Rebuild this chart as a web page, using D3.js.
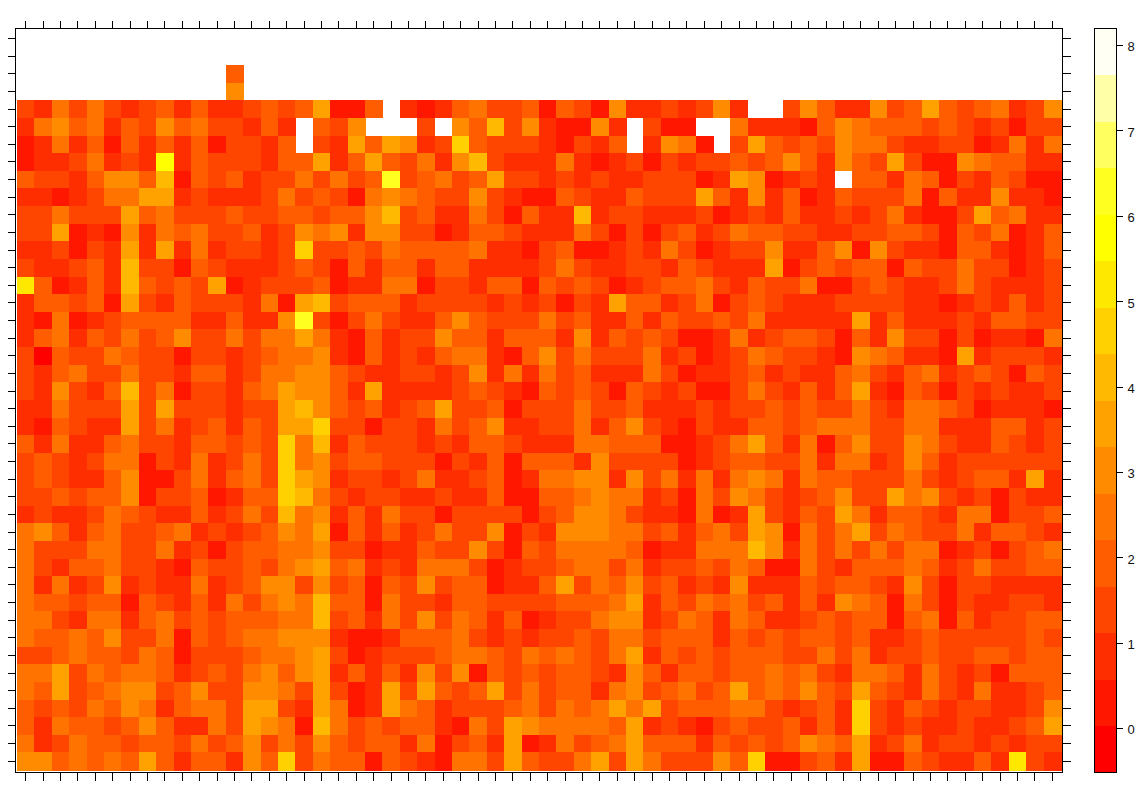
<!DOCTYPE html>
<html><head><meta charset="utf-8">
<script src="https://cdn.jsdelivr.net/npm/d3@7/dist/d3.min.js"></script>
<style>html,body{margin:0;background:#fff}svg{display:block}text{font-family:"Liberation Sans",Arial,sans-serif;font-size:13px;fill:#111}</style>
</head><body><svg id="c" width="1143" height="787"></svg>
<script>
const n = null;
const heatColors = ["#FF0000","#FF1700","#FF2E00","#FF4600","#FF5D00","#FF7400","#FF8B00","#FFA200","#FFB900","#FFD100","#FFE800","#FFFF00","#FFFF20","#FFFF60","#FFFFA8","#FFFFF4"];
const valueMin = -0.52, valueMax = 8.2;
const colorbarTicks = [0,1,2,3,4,5,6,7,8];
// colour-band index (0 = lowest band of the colour bar) read for each cell, top row first; n = blank
const r00 = [n,n,n,n,n,n,n,n,n,n,n,n,n,n,n,n,n,n,n,n,n,n,n,n,n,n,n,n,n,n,n,n,n,n,n,n,n,n,n,n,n,n,n,n,n,n,n,n,n,n,n,n,n,n,n,n,n,n,n,n];
const r01 = r00;
const r02 = [n,n,n,n,n,n,n,n,n,n,n,n,4,n,n,n,n,n,n,n,n,n,n,n,n,n,n,n,n,n,n,n,n,n,n,n,n,n,n,n,n,n,n,n,n,n,n,n,n,n,n,n,n,n,n,n,n,n,n,n];
const r03 = [n,n,n,n,n,n,n,n,n,n,n,n,6,n,n,n,n,n,n,n,n,n,n,n,n,n,n,n,n,n,n,n,n,n,n,n,n,n,n,n,n,n,n,n,n,n,n,n,n,n,n,n,n,n,n,n,n,n,n,n];
const r04 = [3,2,5,3,5,3,2,3,4,2,4,2,2,3,4,3,4,7,1,1,4,n,2,1,2,4,5,3,3,4,1,4,3,1,6,2,2,3,2,3,6,2,n,n,3,6,4,2,2,6,3,4,7,4,3,4,5,2,3,6];
const r05 = [2,5,6,4,5,2,4,3,6,4,5,3,3,2,4,2,n,4,3,6,n,n,n,3,n,6,4,8,3,6,2,1,1,6,2,n,3,1,1,n,n,5,2,2,2,1,4,6,5,4,4,4,3,4,3,2,3,1,3,3];
const r06 = [1,2,5,2,4,1,4,2,4,2,4,1,3,3,2,4,n,3,2,7,4,7,6,2,3,9,4,3,3,3,2,1,3,2,4,n,2,6,5,1,n,3,7,4,3,4,3,6,5,5,3,2,2,3,3,1,2,5,2,5];
const r07 = [1,2,2,3,5,2,3,2,11,2,4,3,3,3,2,4,4,7,2,4,7,4,3,5,2,6,8,3,2,2,2,5,2,1,2,3,1,3,2,3,3,4,3,4,6,4,2,6,4,3,7,3,1,1,6,5,4,4,2,2];
const r08 = [4,3,3,2,4,6,6,4,8,1,4,3,4,2,3,3,5,3,5,3,4,12,3,4,5,3,4,7,3,3,2,3,2,3,2,2,3,3,3,1,2,7,6,1,2,3,2,n,4,4,2,5,4,1,3,2,4,3,1,1];
const r09 = [2,2,1,2,3,5,5,7,7,2,3,2,2,2,3,5,3,4,3,1,5,6,5,4,3,3,6,3,2,1,1,4,3,2,2,4,3,3,3,7,4,2,6,2,4,1,2,4,3,3,3,5,1,4,2,2,6,2,2,1];
const r10 = [3,3,5,3,3,3,7,4,5,3,3,3,4,3,3,4,4,3,4,4,6,8,3,4,2,2,5,3,1,4,2,2,8,2,3,3,2,2,2,3,1,2,3,2,4,2,2,3,2,3,5,2,1,1,3,7,4,5,2,2];
const r11 = [3,3,7,1,2,1,6,2,5,4,5,3,3,4,2,3,6,5,6,2,6,6,3,3,1,2,4,4,3,2,2,2,5,3,1,3,1,3,4,2,3,5,4,4,3,3,2,2,3,3,4,4,3,1,4,3,5,1,2,4];
const r12 = [2,2,3,1,3,2,7,2,7,2,5,2,3,3,2,3,9,3,3,4,3,5,4,4,4,4,5,2,2,1,3,4,1,1,2,3,2,5,3,1,2,3,3,6,2,2,4,6,1,6,3,2,2,1,4,4,2,1,2,4];
const r13 = [3,2,2,3,4,2,8,3,3,1,4,3,2,2,2,3,4,3,1,4,2,4,4,2,4,4,2,2,2,2,3,5,3,2,2,3,3,2,4,3,2,2,2,7,1,3,4,3,4,4,1,4,3,3,5,3,3,1,2,3];
const r14 = [10,4,1,2,4,2,8,4,3,4,3,7,1,2,3,3,3,4,1,2,2,5,5,1,3,3,2,4,4,1,4,3,4,3,1,2,3,4,4,5,3,2,4,3,3,5,1,1,3,4,3,2,2,3,5,3,2,2,2,3];
const r15 = [2,4,4,3,4,1,7,3,2,4,3,3,3,2,5,1,7,8,3,4,4,4,2,3,3,3,3,2,3,2,3,1,3,2,7,4,4,2,3,5,1,3,4,3,2,2,2,3,3,3,3,2,2,1,2,3,2,4,2,3];
const r16 = [2,1,5,1,2,3,4,4,4,4,2,2,4,2,2,6,12,3,1,3,5,3,2,2,4,6,4,3,3,3,5,3,4,2,2,4,2,4,3,3,4,3,5,2,2,2,2,2,7,2,4,2,2,2,3,2,4,4,3,3];
const r17 = [2,4,5,2,4,3,5,3,4,6,3,3,5,3,5,5,7,5,2,1,4,2,3,3,6,4,4,2,4,4,4,2,6,2,4,3,4,3,1,1,2,5,2,3,4,4,3,1,4,2,6,3,3,1,3,1,2,2,1,5];
const r18 = [3,0,4,3,3,5,4,3,3,1,3,3,2,3,4,5,5,6,2,1,4,2,3,2,4,5,5,2,1,4,6,3,5,3,3,3,5,2,3,1,2,3,5,4,3,3,2,1,6,5,4,2,2,1,7,2,3,3,3,2];
const r19 = [3,2,4,5,3,3,5,3,3,2,4,4,2,3,5,5,6,6,4,3,2,2,3,3,2,3,6,2,5,2,5,3,4,2,2,2,5,3,1,2,2,3,4,2,3,2,2,4,5,3,2,4,5,2,3,4,3,1,4,3];
const r20 = [3,2,6,3,2,4,8,3,5,1,3,3,2,4,5,7,6,6,4,2,7,2,2,2,2,3,4,3,2,1,4,3,4,3,1,4,3,2,3,1,1,3,5,3,2,4,2,4,7,2,1,4,3,1,3,2,3,2,2,3];
const r21 = [2,2,5,3,3,3,7,3,7,3,3,3,2,3,3,7,8,6,4,3,4,2,3,4,7,3,3,4,1,3,3,3,5,3,3,4,2,2,2,3,2,3,3,4,3,4,3,3,5,3,2,5,5,4,3,1,2,2,2,1];
const r22 = [2,1,4,3,2,2,7,3,5,2,3,4,2,4,3,7,7,9,3,3,1,3,3,2,5,3,4,6,2,2,3,3,5,2,4,6,3,2,1,3,2,2,4,4,3,4,5,5,5,3,3,5,5,2,2,2,4,4,2,3];
const r23 = [4,2,5,2,2,4,5,3,3,2,4,4,3,4,3,9,5,8,2,4,3,3,3,2,3,2,4,4,3,2,2,2,5,5,4,4,4,1,1,2,3,5,7,4,2,5,1,4,6,3,3,6,5,3,2,2,4,3,2,3];
const r24 = [3,4,3,2,3,5,5,1,3,2,5,2,3,5,3,9,5,6,3,4,4,3,3,3,1,3,2,4,1,4,4,4,2,6,3,3,3,3,1,2,3,4,4,3,3,5,2,5,5,2,3,6,4,2,3,3,3,3,3,3];
const r25 = [3,4,3,2,2,4,6,1,1,3,5,2,4,5,3,9,7,6,2,3,3,2,3,5,2,2,3,4,1,2,5,5,6,6,2,6,3,5,2,5,2,5,6,5,2,5,4,4,3,3,3,5,3,2,3,4,4,2,7,2];
const r26 = [3,3,4,3,4,4,6,1,3,3,4,1,2,4,4,9,8,5,3,2,3,3,2,2,3,2,2,4,1,1,4,4,5,6,5,5,2,3,1,5,3,6,5,3,2,3,4,6,3,3,7,5,6,3,2,3,1,3,2,2];
const r27 = [2,3,2,2,3,5,4,3,2,2,4,2,3,5,3,8,5,6,2,4,2,5,3,3,1,3,3,3,3,1,3,4,6,6,5,3,2,2,1,5,1,2,7,3,2,4,3,7,5,2,4,4,3,2,5,5,1,3,3,4];
const r28 = [5,6,4,2,4,5,3,3,4,5,2,3,2,3,4,6,5,7,1,4,2,4,2,3,5,3,3,6,1,3,2,6,6,6,5,5,3,4,2,4,5,3,7,6,1,5,3,5,7,3,5,4,3,3,5,2,4,4,3,2];
const r29 = [5,3,3,3,5,5,3,3,5,2,3,1,3,4,4,5,5,6,3,3,1,2,2,4,3,3,6,3,1,4,3,5,5,5,5,4,1,2,2,5,5,5,8,6,2,5,3,5,3,5,3,5,5,1,2,3,1,3,4,5];
const r30 = [5,3,2,4,4,5,3,3,2,1,4,3,3,4,3,5,6,7,4,5,2,3,2,5,5,5,3,1,2,3,3,4,5,5,3,5,2,3,3,4,3,5,4,1,1,5,3,2,4,4,4,5,4,2,3,5,3,3,4,4];
const r31 = [5,2,5,2,3,6,2,3,2,2,5,2,3,4,6,6,3,6,3,4,1,4,3,6,3,4,4,1,2,2,4,7,3,5,4,6,3,4,2,3,2,6,2,2,2,4,3,4,4,3,2,6,3,1,3,3,2,2,2,2];
const r32 = [5,4,4,3,4,4,1,4,3,2,4,2,5,3,5,6,5,8,4,4,1,5,3,3,2,4,4,3,3,3,3,4,4,4,5,7,2,4,3,5,4,5,3,4,2,4,2,6,5,4,1,5,3,1,3,2,2,3,3,2];
const r33 = [5,5,3,2,5,5,2,4,5,3,4,3,4,4,4,5,5,8,3,4,2,5,3,6,3,5,4,2,4,1,2,3,3,5,6,6,2,3,5,4,2,5,4,2,2,3,4,3,4,4,1,4,5,1,4,2,3,3,4,4];
const r34 = [5,4,4,5,4,6,3,3,5,1,4,3,4,5,5,6,6,6,2,1,1,2,4,4,4,5,3,2,3,2,3,3,4,3,5,5,3,4,4,4,2,4,3,4,3,4,4,3,4,2,2,3,4,3,3,3,3,3,4,3];
const r35 = [3,3,4,5,4,4,3,5,4,1,3,3,3,4,5,5,6,7,3,1,2,3,3,3,4,5,5,4,3,5,4,5,4,3,5,7,2,4,3,4,3,4,4,4,3,3,5,3,5,2,3,3,4,3,3,4,4,3,4,4];
const r36 = [5,5,7,3,5,4,5,5,4,2,3,4,3,5,6,4,6,7,2,4,2,4,2,6,3,6,1,4,3,4,3,4,4,3,2,6,4,2,4,4,3,4,4,5,4,5,3,2,5,5,4,2,5,3,2,3,1,4,4,4];
const r37 = [5,4,7,3,4,5,6,6,3,4,6,3,3,6,6,5,3,7,3,1,2,7,3,7,4,3,4,7,3,5,3,4,4,2,5,6,3,4,5,3,4,7,4,5,4,6,4,3,7,4,3,2,5,3,2,5,2,2,3,4];
const r38 = [4,3,4,3,5,4,6,5,2,4,5,5,3,7,7,3,2,7,5,1,2,7,5,4,2,3,3,3,4,5,3,5,4,5,7,5,7,3,4,4,4,5,5,3,2,3,4,2,9,3,2,4,3,2,3,3,2,2,3,6];
const r39 = [4,2,5,4,4,3,4,6,4,2,2,5,3,7,6,5,1,8,5,3,4,3,4,4,2,1,5,3,7,6,5,5,5,5,4,7,2,3,2,1,3,4,3,3,4,2,4,2,9,3,2,3,2,2,3,2,2,3,4,7];
const r40 = [5,2,3,5,4,4,3,4,4,3,5,3,4,6,3,5,3,6,4,3,4,4,2,5,1,3,4,2,7,1,2,5,3,4,5,7,4,4,4,2,4,3,4,3,4,6,5,4,7,2,3,5,2,3,3,2,3,2,3,3];
const r41 = [6,6,4,5,4,5,4,7,4,2,4,4,2,6,4,9,3,5,4,4,1,4,3,2,1,5,5,3,7,4,3,3,5,7,3,7,5,3,3,3,6,4,9,1,1,3,4,2,7,1,1,4,3,2,2,4,2,10,3,2];
const rows = [r00,r01,r02,r03,r04,r05,r06,r07,r08,r09,r10,r11,r12,r13,r14,r15,r16,r17,r18,r19,r20,r21,r22,r23,r24,r25,r26,r27,r28,r29,r30,r31,r32,r33,r34,r35,r36,r37,r38,r39,r40,r41];

const svg = d3.select("#c");
const x = d3.scaleBand().domain(d3.range(60)).range([17,1061]);
const y = d3.scaleBand().domain(d3.range(42)).range([29.8,770]);
const bandToValue = d3.scaleLinear().domain([0,16]).range([valueMin,valueMax]);
const color = d3.scaleQuantize().domain([valueMin,valueMax]).range(heatColors);

const cells = rows.flatMap((r,j)=>r.map((b,i)=>({i,j,v:b===null?null:bandToValue(b+0.5)}))).filter(d=>d.v!==null);
svg.append("g").attr("shape-rendering","crispEdges").selectAll("rect").data(cells).join("rect")
  .attr("x",d=>x(d.i)).attr("y",d=>y(d.j)).attr("width",x.bandwidth()+0.5).attr("height",y.bandwidth()+0.5)
  .attr("fill",d=>color(d.v));

// frame + outside ticks on all four sides
const frame = {l:15.5,r:1062.5,t:28.5,b:772.5};
const noLabel = a=>a.tickFormat("").tickSizeOuter(0).tickSize(8);
function tidy(g){g.select(".domain").remove();g.selectAll("line").attr("stroke","#000").attr("shape-rendering","crispEdges");}
svg.append("g").attr("transform",`translate(0,${frame.t})`).call(noLabel(d3.axisTop(x))).call(tidy);
svg.append("g").attr("transform",`translate(0,${frame.b})`).call(noLabel(d3.axisBottom(x))).call(tidy);
svg.append("g").attr("transform",`translate(${frame.l},0)`).call(noLabel(d3.axisLeft(y))).call(tidy);
svg.append("g").attr("transform",`translate(${frame.r},0)`).call(noLabel(d3.axisRight(y))).call(tidy);
svg.append("rect").attr("x",frame.l).attr("y",frame.t).attr("width",frame.r-frame.l).attr("height",frame.b-frame.t)
  .attr("fill","none").attr("stroke","#000").attr("stroke-width",1).attr("shape-rendering","crispEdges");

// colour bar
const cb = {l:1094,r:1116.5,t:28,b:772.5};
const cy = d3.scaleLinear().domain([valueMin,valueMax]).range([cb.b,cb.t]);
const step = (valueMax-valueMin)/heatColors.length;
svg.append("g").attr("shape-rendering","crispEdges").selectAll("rect").data(heatColors).join("rect")
  .attr("x",cb.l).attr("width",cb.r-cb.l)
  .attr("y",(c,i)=>cy(valueMin+(i+1)*step)).attr("height",(c,i)=>cy(valueMin+i*step)-cy(valueMin+(i+1)*step)+0.5)
  .attr("fill",c=>c);
svg.append("rect").attr("x",cb.l).attr("y",cb.t).attr("width",cb.r-cb.l).attr("height",cb.b-cb.t)
  .attr("fill","none").attr("stroke","#000").attr("stroke-width",1).attr("shape-rendering","crispEdges");
const ca = svg.append("g").attr("transform",`translate(${cb.r},0)`)
  .call(d3.axisRight(cy).tickValues(colorbarTicks).tickSize(6).tickPadding(5).tickFormat(d3.format("d")));
ca.select(".domain").remove();
ca.selectAll("line").attr("stroke","#000").attr("shape-rendering","crispEdges");
ca.selectAll("text").attr("font-size",null).attr("dy","0.45em");
</script></body></html>
